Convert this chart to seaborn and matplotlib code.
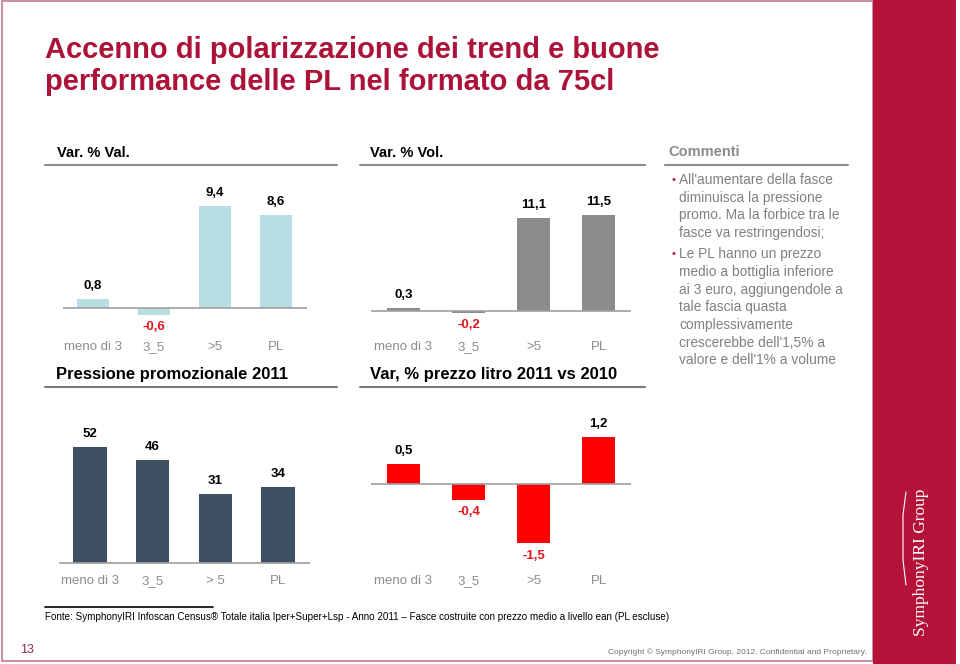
import pandas as pd
import numpy as np
import seaborn as sns
import matplotlib.pyplot as plt
from matplotlib.patches import Rectangle
from matplotlib.lines import Line2D
import matplotlib.transforms as mtransforms

sns.set_theme(style="white")
plt.rcParams['font.family'] = ['Liberation Sans', 'DejaVu Sans']

### Data
cats_top = ["meno di 3", "3_5", ">5", "PL"]
cats_bottom_left = ["meno di 3", "3_5", "> 5", "PL"]
var_val = [0.8, -0.6, 9.4, 8.6]
var_vol = [0.3, -0.2, 11.1, 11.5]
pressione = [52, 46, 31, 34]
prezzo_litro = [0.5, -0.4, -1.5, 1.2]

comment_lines = [
    ["All'aumentare della fasce", "diminuisca la pressione",
     "promo. Ma la forbice tra le", "fasce va restringendosi;"],
    ["Le PL hanno un prezzo", "medio a bottiglia inferiore",
     "ai 3 euro, aggiungendole a", "tale fascia quasta",
     "complessivamente", "crescerebbe dell'1,5% a",
     "valore e dell'1% a volume"],
]

W, H = 960, 664
fig = plt.figure(figsize=(W / 100, H / 100), dpi=100)
fig.patch.set_facecolor("white")


def fx(x):
    return x / W


def fy(y):
    return 1 - y / H


def fmt(v):
    s = ("%.1f" % v).replace(".", ",")
    if float(v).is_integer() and abs(v) >= 10:
        s = "%d" % v
    return s


def bar_panel(cats, vals, color, x0, x1, base_y, scale, top_y, bot_y, label_y, width):
    ax = fig.add_axes([fx(x0), fy(bot_y), (x1 - x0) / W, (bot_y - top_y) / H])
    df = pd.DataFrame({"cat": cats, "val": vals})
    sns.barplot(data=df, x="cat", y="val", color=color, saturation=1,
                width=width, ax=ax, errorbar=None, linewidth=0)
    ax.set_xlim(-0.5, len(cats) - 0.5)
    ax.set_ylim(-(bot_y - base_y) / scale, (base_y - top_y) / scale)
    ax.axhline(0, color="#a0a0a0", lw=1.2, zorder=3)
    ax.axis("off")
    for i, v in enumerate(vals):
        if v >= 0:
            ax.annotate(fmt(v), (i, v), xytext=(0, 9.4), textcoords="offset points",
                        ha="center", va="center", fontsize=9.5, fontweight="bold",
                        color="black")
        else:
            ax.annotate(fmt(v), (i, v), xytext=(0, -9.0), textcoords="offset points",
                        ha="center", va="center", fontsize=9.5, fontweight="bold",
                        color="#e3161e")
    tr = mtransforms.blended_transform_factory(ax.transData, fig.transFigure)
    for i, c in enumerate(cats):
        ax.text(i, fy(label_y + 4.5), c, transform=tr, ha="center", va="baseline",
                fontsize=9.5, color="#8c8c8c", clip_on=False)
    return ax


def hline(x0, x1, y, color="#8c8c8c", lw=1.5):
    fig.add_artist(Line2D([fx(x0), fx(x1)], [fy(y), fy(y)], color=color, lw=lw))


# slide border and red side panel
fig.add_artist(Rectangle((fx(2), fy(661)), fx(873) - fx(2), fy(1) - fy(661),
                         fill=False, edgecolor="#c27a95", lw=1.2))
fig.add_artist(Rectangle((fx(873), 0), fx(956) - fx(873), 1,
                         facecolor="#b5123a", edgecolor="none"))
fig.text(fx(921), fy(562), "SymphonyIRI Group", rotation=90, ha="center", va="center",
         color="white", fontsize=12.5, family="Liberation Serif")
fig.add_artist(Line2D([fx(906), fx(903), fx(903), fx(906)],
                      [fy(492), fy(515), fy(560), fy(585)], color="white", lw=0.8))

# title
title_kw = dict(fontsize=21, fontweight="bold", color="#ad1238", ha="left", va="center")
fig.text(fx(45), fy(50), "Accenno di polarizzazione dei trend e buone", **title_kw)
fig.text(fx(45), fy(82), "performance delle PL nel formato da 75cl", **title_kw)

# headers
head_kw = dict(fontsize=10.5, fontweight="bold", ha="left", va="center")
fig.text(fx(57), fy(153), "Var. % Val.", color="black", **head_kw)
fig.text(fx(370), fy(153), "Var. % Vol.", color="black", **head_kw)
fig.text(fx(668), fy(152), "Commenti", color="#8c8c8c", **head_kw)
hline(45, 337, 165)
hline(360, 645, 165)
hline(665, 848, 165)

sub_kw = dict(fontsize=12, fontweight="bold", ha="left", va="center", color="black")
fig.text(fx(56), fy(374), "Pressione promozionale 2011", **sub_kw)
fig.text(fx(370), fy(374), "Var, % prezzo litro 2011 vs 2010", **sub_kw)
hline(45, 337, 387, color="#7a7a7a")
hline(360, 645, 387, color="#7a7a7a")

# charts
bar_panel(cats_top, var_val, "#b7dee2", 62.5, 306.5, 308, 10.85, 185, 335, 346, 0.54)
bar_panel(cats_top, var_vol, "#8c8c8c", 371, 631, 311, 8.37, 185, 335, 346, 0.51)
bar_panel(cats_bottom_left, pressione, "#3e4f61", 58.5, 309.5, 563, 2.23, 415, 570, 580, 0.53)
bar_panel(cats_top, prezzo_litro, "#ff0000", 371, 631, 484, 39.5, 415, 570, 580, 0.51)

# comments
y = 180
for block in comment_lines:
    fig.text(fx(671), fy(y), "\u2022", color="#c0143c", fontsize=8, ha="left", va="center")
    for line in block:
        fig.text(fx(679), fy(y), line, color="#808080", fontsize=9.9, ha="left", va="center")
        y += 17.7
    y += 3.5

# footer
hline(45, 213, 607, color="black", lw=1.2)
fig.text(fx(45), fy(617),
         "Fonte: SymphonyIRI Infoscan Census\u00ae Totale italia Iper+Super+Lsp - Anno 2011 \u2013 "
         "Fasce costruite con prezzo medio a livello ean (PL escluse)",
         fontsize=7.1, color="black", ha="left", va="center")
fig.text(fx(20), fy(650), "13", fontsize=9, color="#9b2a4f", ha="left", va="center")
fig.text(fx(867), fy(652), "Copyright \u00a9 SymphonyIRI Group, 2012. Confidential and Proprietary.",
         fontsize=6, color="#707070", ha="right", va="center")

fig.savefig("out.png", dpi=100)
